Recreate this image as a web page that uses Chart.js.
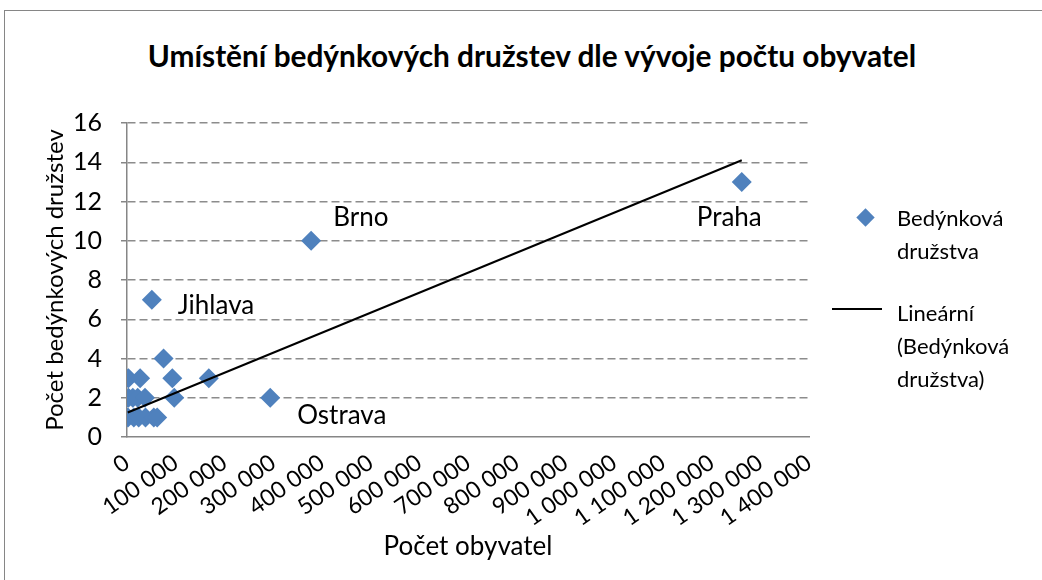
<!DOCTYPE html>
<html>
<head>
<meta charset="utf-8">
<script src="https://cdn.jsdelivr.net/npm/chart.js@4.4.0/dist/chart.umd.min.js"></script>
<style>
  body { margin: 0; background: #fff; font-family: Lato, sans-serif; color: #000; }
  #wrap { position: relative; width: 1042px; height: 580px; overflow: hidden; }
  #frame { position: absolute; left: 4px; top: 10px; width: 1100px; height: 700px; border: 1px solid #868686; }
  #title { position: absolute; left: 0; top: 38px; width: 1064px; text-align: center; font-weight: bold; font-size: 29.8px; line-height: 36px; }
  canvas { position: absolute; left: 0; top: 0; }
  .leg-text { position: absolute; left: 897px; font-size: 22px; line-height: 33px; }
  #leg-diamond { position: absolute; left: 859px; top: 211px; width: 13px; height: 13px; background: #4F81BD; transform: rotate(45deg); }
  #leg-line { position: absolute; left: 832px; top: 308px; width: 50px; height: 2px; background: #000; }
</style>
</head>
<body>
<div id="wrap">
  <div id="frame"></div>
  <div id="title">Umístění bedýnkových družstev dle vývoje počtu obyvatel</div>
  <canvas id="myChart" width="1042" height="580"></canvas>
  <div id="leg-diamond"></div>
  <div class="leg-text" style="top:201px">Bedýnková<br>družstva</div>
  <div id="leg-line"></div>
  <div class="leg-text" style="top:296px">Lineární<br>(Bedýnková<br>družstva)</div>
</div>
<script>
// pocet obyvatel mesta a pocet bedynkovych druzstev
const populace = [1262000, 378000, 294000, 51000,
  75000, 3000, 27000, 93000, 168000,
  3000, 12000, 22000, 37000, 97000,
  2000, 14000, 24000, 38000, 55000, 62000];
const druzstva = [13, 10, 2, 7,
  4, 3, 3, 3, 3,
  2, 2, 2, 2, 2,
  1, 1, 1, 1, 1, 1];
const popisky = ['Praha', 'Brno', 'Ostrava', 'Jihlava'];

// linearni trend (koncove body)
const trendX = [1500, 1262000];
const trendY = [1.25, 14.1];

const xTicks = { min: 0, max: 1400000, step: 100000 };
const yTicks = { min: 0, max: 16, step: 2 };

// posun popisku od bodu
const labelOffsets = [[-45, 36], [22, -23], [27, 18], [26, 6]];

const fmt = v => String(v).replace(/\B(?=(\d{3})+(?!\d))/g, ' ');

const pointLabels = {
  id: 'pointLabels',
  afterDatasetsDraw(chart) {
    const ctx = chart.ctx;
    const meta = chart.getDatasetMeta(0);
    ctx.save();
    ctx.font = '26px Lato';
    ctx.fillStyle = '#000';
    ctx.textAlign = 'left';
    ctx.textBaseline = 'middle';
    popisky.forEach((txt, i) => {
      const el = meta.data[i];
      ctx.fillText(txt, el.x + labelOffsets[i][0], el.y + labelOffsets[i][1]);
    });
    ctx.restore();
  }
};

const ctx = document.getElementById('myChart').getContext('2d');
new Chart(ctx, {
  type: 'scatter',
  data: {
    datasets: [
      {
        label: 'Bedýnková družstva',
        data: populace.map((x, i) => ({ x: x, y: druzstva[i] })),
        pointStyle: 'rectRot',
        pointRadius: 10,
        pointHoverRadius: 10,
        backgroundColor: '#4F81BD',
        borderColor: '#4F81BD',
        borderWidth: 0,
        order: 2
      },
      {
        type: 'line',
        label: 'Lineární (Bedýnková družstva)',
        data: trendX.map((x, i) => ({ x: x, y: trendY[i] })),
        borderColor: '#000',
        borderWidth: 2,
        pointRadius: 0,
        fill: false,
        order: 1
      }
    ]
  },
  options: {
    responsive: false,
    animation: false,
    layout: { padding: { top: 123, right: 233, left: 0, bottom: 0 } },
    plugins: {
      legend: { display: false },
      tooltip: { enabled: false }
    },
    scales: {
      x: {
        type: 'linear',
        min: xTicks.min,
        max: xTicks.max,
        afterFit: s => { s.height = 143; },
        grid: { display: false },
        border: { color: '#868686', width: 1.5 },
        ticks: {
          stepSize: xTicks.step,
          autoSkip: false,
          minRotation: 35,
          maxRotation: 35,
          padding: 4,
          color: '#000',
          font: { family: 'Lato', size: 23 },
          callback: v => fmt(v)
        },
        title: {
          display: true,
          text: 'Počet obyvatel',
          color: '#000',
          font: { family: 'Lato', size: 26 },
          padding: { top: 0, bottom: 18 }
        }
      },
      y: {
        min: yTicks.min,
        max: yTicks.max,
        afterFit: s => { s.width = 127; },
        grid: {
          color: c => c.tick && c.tick.value === 0 ? 'transparent' : '#8c8c8c',
          lineWidth: 1.5,
          tickLength: 6,
          tickColor: '#868686',
          tickBorderDash: []
        },
        border: { color: '#868686', width: 1.5, dash: [8, 4] },
        ticks: {
          stepSize: yTicks.step,
          padding: 19,
          color: '#000',
          font: { family: 'Lato', size: 25 }
        },
        title: {
          display: true,
          text: 'Počet bedýnkových družstev',
          color: '#000',
          font: { family: 'Lato', size: 24 },
          padding: { top: 41, bottom: 0 }
        }
      }
    }
  },
  plugins: [pointLabels]
});
</script>
</body>
</html>
